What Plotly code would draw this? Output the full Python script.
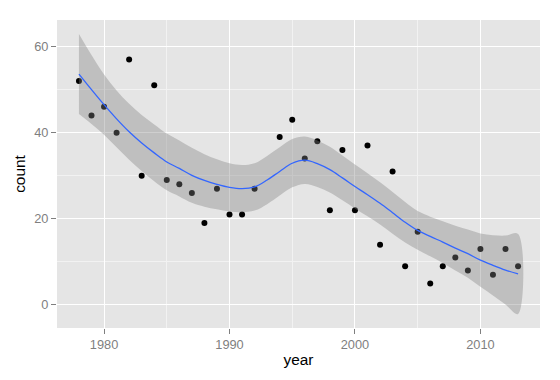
import plotly.graph_objects as go

# scatter data
years = [1978, 1979, 1980, 1981, 1982, 1983, 1984, 1985, 1986, 1987, 1988, 1989,
         1990, 1991, 1992, 1994, 1995, 1996, 1997, 1998, 1999, 2000, 2001, 2002,
         2003, 2004, 2005, 2006, 2007, 2008, 2009, 2010, 2011, 2012, 2013]
counts = [52, 44, 46, 40, 57, 30, 51, 29, 28, 26, 19, 27,
          21, 21, 27, 39, 43, 34, 38, 22, 36, 22, 37, 14,
          31, 9, 17, 5, 9, 11, 8, 13, 7, 13, 9]

# smoother
smooth_x = list(range(1978, 2014))
smooth_y = [53.6, 50.0, 46.5, 43.2, 40.2, 37.6, 35.3, 33.2, 31.7, 30.1, 28.9, 28.0,
            27.3, 27.0, 27.4, 29.0, 31.0, 32.9, 33.6, 32.8, 31.4, 29.5, 27.5, 25.6,
            23.6, 21.4, 19.2, 17.3, 15.9, 14.6, 13.2, 11.9, 10.4, 9.2, 8.1, 7.2]
upper = [62.9, 58.0, 53.5, 49.8, 46.7, 44.1, 41.9, 39.8, 38.2, 36.5, 35.0, 33.8,
         32.9, 32.5, 32.9, 34.6, 36.6, 38.5, 39.1, 38.2, 36.7, 34.7, 32.6, 30.6,
         28.5, 26.25, 23.9, 21.8, 20.5, 19.45, 18.4, 17.5, 16.6, 16.2, 16.1, 16.5]
lower = [44.3, 42.0, 39.5, 36.6, 33.7, 31.1, 28.7, 26.6, 25.2, 23.7, 22.8, 22.2,
         21.7, 21.5, 21.9, 23.4, 25.4, 27.3, 28.1, 27.4, 26.1, 24.3, 22.4, 20.6,
         18.7, 16.55, 14.5, 12.8, 11.3, 9.75, 8.0, 6.3, 4.2, 2.2, 0.1, -2.1]

x_ticks = [1980, 1990, 2000, 2010]
y_ticks = [0, 20, 40, 60]

fig = go.Figure()
fig.add_trace(go.Scatter(x=years, y=counts, mode="markers",
                         marker=dict(color="black", size=6), showlegend=False))
fig.add_trace(go.Scatter(x=smooth_x + smooth_x[::-1], y=upper + lower[::-1],
                         fill="toself", fillcolor="rgba(128,128,128,0.38)",
                         line=dict(width=0), mode="lines", showlegend=False,
                         line_shape="spline"))
fig.add_trace(go.Scatter(x=smooth_x, y=smooth_y, mode="lines",
                         line=dict(color="#3366FF", width=1.3, shape="spline"),
                         showlegend=False))

font = "Liberation Sans, Arial, sans-serif"
fig.update_layout(
    template="none",
    width=560, height=380,
    margin=dict(l=57, r=20, t=20, b=52),
    paper_bgcolor="white", plot_bgcolor="#E5E5E5",
    font=dict(family=font),
    xaxis=dict(range=[1976.25, 2014.75], tickvals=x_ticks, ticktext=[str(v) for v in x_ticks],
               automargin=False, showline=False,
               showgrid=True, gridcolor="white", gridwidth=1.2, zeroline=False,
               ticks="outside", ticklen=5, tickcolor="#7F7F7F", tickwidth=1,
               tickfont=dict(size=12.8, color="#7F7F7F"),
               minor=dict(tickvals=[1985, 1995, 2005], showgrid=True, gridcolor="#F2F2F2", gridwidth=1, ticks=""),
               title=dict(text="year", font=dict(size=15.4, color="black"), standoff=2)),
    yaxis=dict(range=[-5.35, 66.15], tickvals=y_ticks, ticktext=[str(v) for v in y_ticks],
               automargin=False, showline=False,
               showgrid=True, gridcolor="white", gridwidth=1.2, zeroline=False,
               ticks="outside", ticklen=5, tickcolor="#7F7F7F", tickwidth=1,
               tickfont=dict(size=12.8, color="#7F7F7F"),
               minor=dict(tickvals=[10, 30, 50], showgrid=True, gridcolor="#F2F2F2", gridwidth=1, ticks=""),
               title=dict(text="count", font=dict(size=15.4, color="black"), standoff=4)),
)

fig.write_html("out.html", config={"displayModeBar": False},
               post_script="document.body.style.margin='0';")
